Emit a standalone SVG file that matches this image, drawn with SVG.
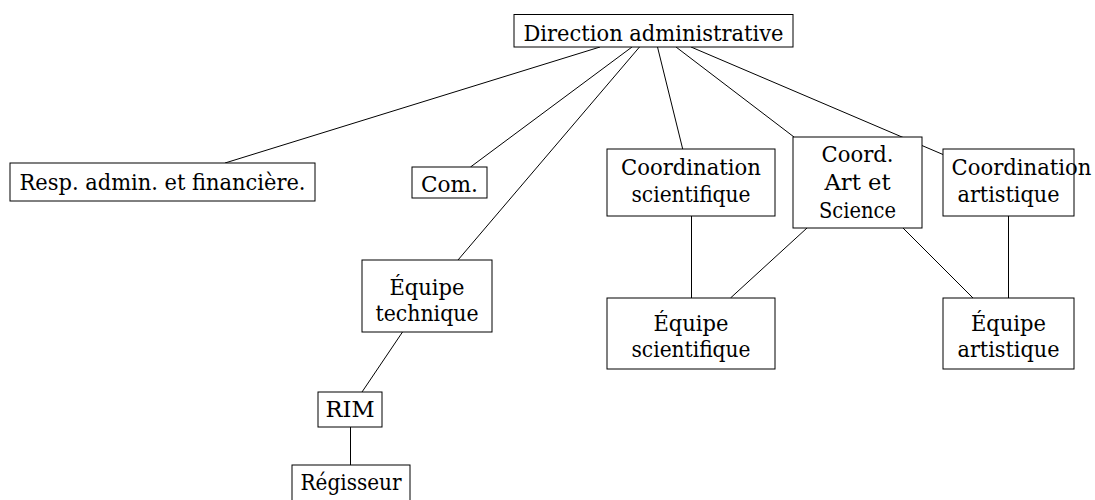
<svg xmlns="http://www.w3.org/2000/svg" width="1095" height="500" viewBox="0 0 1095 500">
<style>
rect.box { fill: #fff; stroke: #000; stroke-width: 1; }
text { font-family: 'DejaVu Serif', 'Liberation Serif', serif; font-size: 22px; fill: #000; text-anchor: middle; }
#connectors line { stroke: #000; stroke-width: 1; }
</style>
<rect width="1095" height="500" fill="#fff"/>
<g id="connectors">
<line x1="600" y1="47" x2="225" y2="163"/>
<line x1="632" y1="47" x2="470.5" y2="167"/>
<line x1="639.5" y1="47" x2="458" y2="260"/>
<line x1="657.5" y1="47" x2="682.7" y2="149"/>
<line x1="676" y1="47" x2="794" y2="137"/>
<line x1="691" y1="47" x2="943" y2="154.5"/>
<line x1="691.5" y1="216" x2="691.5" y2="298"/>
<line x1="807" y1="228" x2="730.5" y2="298"/>
<line x1="903" y1="228" x2="973" y2="298"/>
<line x1="1008.5" y1="216" x2="1008.5" y2="298"/>
<line x1="402.5" y1="332" x2="362" y2="392"/>
<line x1="350.5" y1="427" x2="350.5" y2="465"/>
</g>
<g id="direction">
<rect class="box" x="514" y="14.5" width="279" height="32.5"/>
<text x="653.5" y="40.5" textLength="260" lengthAdjust="spacingAndGlyphs">Direction administrative</text>
</g>
<g id="resp">
<rect class="box" x="10" y="163" width="305" height="38"/>
<text x="162.5" y="189.5" textLength="286" lengthAdjust="spacingAndGlyphs">Resp. admin. et financière.</text>
</g>
<g id="com">
<rect class="box" x="412" y="167" width="75" height="31"/>
<text x="449.5" y="192" textLength="57" lengthAdjust="spacingAndGlyphs">Com.</text>
</g>
<g id="equipe-technique">
<rect class="box" x="362" y="260" width="130" height="72"/>
<text x="427" y="295" textLength="75" lengthAdjust="spacingAndGlyphs">Équipe</text>
<text x="427" y="321" textLength="103" lengthAdjust="spacingAndGlyphs">technique</text>
</g>
<g id="rim">
<rect class="box" x="318" y="392" width="64" height="35"/>
<text x="350" y="417" textLength="49" lengthAdjust="spacingAndGlyphs">RIM</text>
</g>
<g id="regisseur">
<rect class="box" x="292" y="465" width="118" height="38"/>
<text x="351" y="489.5" textLength="101" lengthAdjust="spacingAndGlyphs">Régisseur</text>
</g>
<g id="coord-scientifique">
<rect class="box" x="607" y="149" width="168" height="67"/>
<text x="691" y="175" textLength="140" lengthAdjust="spacingAndGlyphs">Coordination</text>
<text x="691" y="202" textLength="119" lengthAdjust="spacingAndGlyphs">scientifique</text>
</g>
<g id="coord-art-science">
<rect class="box" x="793" y="137" width="129" height="91"/>
<text x="857.5" y="162" textLength="72" lengthAdjust="spacingAndGlyphs">Coord.</text>
<text x="857.5" y="190" textLength="66" lengthAdjust="spacingAndGlyphs">Art et</text>
<text x="857.5" y="218" textLength="77" lengthAdjust="spacingAndGlyphs">Science</text>
</g>
<g id="coord-artistique">
<rect class="box" x="943" y="149" width="131" height="67"/>
<text x="951.5" y="175" textLength="140" lengthAdjust="spacingAndGlyphs" style="text-anchor:start">Coordination</text>
<text x="1008.5" y="202" textLength="102" lengthAdjust="spacingAndGlyphs">artistique</text>
</g>
<g id="equipe-scientifique">
<rect class="box" x="607" y="298" width="168" height="71"/>
<text x="691" y="331" textLength="75" lengthAdjust="spacingAndGlyphs">Équipe</text>
<text x="691" y="357" textLength="119" lengthAdjust="spacingAndGlyphs">scientifique</text>
</g>
<g id="equipe-artistique">
<rect class="box" x="943" y="298" width="131" height="71"/>
<text x="1008.5" y="331" textLength="75" lengthAdjust="spacingAndGlyphs">Équipe</text>
<text x="1008.5" y="357" textLength="102" lengthAdjust="spacingAndGlyphs">artistique</text>
</g>
</svg>
